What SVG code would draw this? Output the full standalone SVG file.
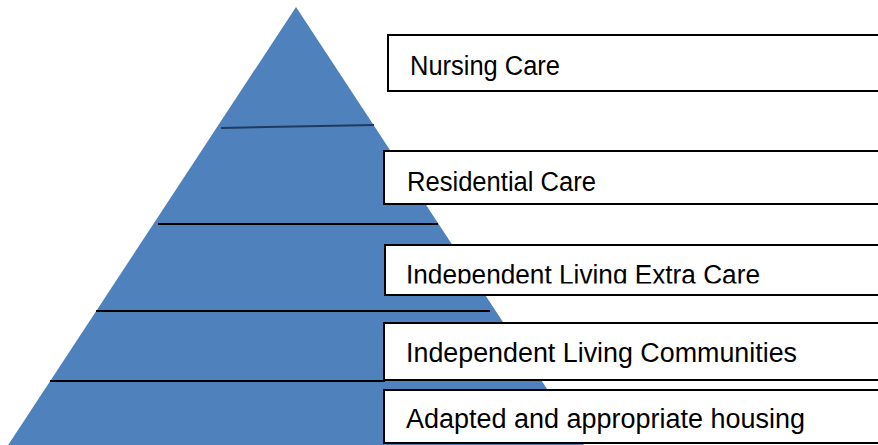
<svg xmlns="http://www.w3.org/2000/svg" width="878" height="445" viewBox="0 0 878 445">
  <style>
    .box { fill: #ffffff; stroke: #000000; stroke-width: 2; }
    .lbl { font-family: "Liberation Sans", Arial, sans-serif; font-size: 27px; fill: #000000; }
    .tier { stroke: #000000; stroke-width: 2; }
  </style>
  <defs>
    <clipPath id="clipExtra">
      <rect x="384" y="245" width="500" height="38.5"/>
    </clipPath>
  </defs>

  <!-- pyramid -->
  <g id="pyramid">
    <polygon points="296,7 595,462 -3,462" fill="#4F81BD"/>
  </g>

  <!-- tier dividers -->
  <g id="connectors">
    <line x1="221" y1="128" x2="374" y2="125" stroke="#1F3B5F" stroke-width="2"/>
    <line class="tier" x1="158" y1="224" x2="438" y2="224"/>
    <line class="tier" x1="96" y1="311" x2="490" y2="311"/>
    <line class="tier" x1="50" y1="381" x2="385" y2="381"/>
  </g>

  <g id="nursing-care">
    <rect class="box" x="388" y="35" width="500" height="56"/>
    <text class="lbl" x="410" y="75" textLength="150" lengthAdjust="spacingAndGlyphs">Nursing Care</text>
  </g>

  <g id="residential-care">
    <rect class="box" x="384" y="151" width="505" height="53"/>
    <text class="lbl" x="407" y="191" textLength="189" lengthAdjust="spacingAndGlyphs">Residential Care</text>
  </g>

  <g id="extra-care">
    <rect class="box" x="385" y="245" width="505" height="50"/>
    <text class="lbl" x="406" y="284" textLength="354" lengthAdjust="spacingAndGlyphs" clip-path="url(#clipExtra)">Independent Living Extra Care</text>
  </g>

  <g id="communities">
    <rect class="box" x="384" y="323" width="505" height="57"/>
    <text class="lbl" x="406" y="362" textLength="391" lengthAdjust="spacingAndGlyphs">Independent Living Communities</text>
  </g>

  <g id="adapted-housing">
    <rect class="box" x="384" y="390" width="505" height="53"/>
    <text class="lbl" x="406" y="428" textLength="399" lengthAdjust="spacingAndGlyphs">Adapted and appropriate housing</text>
  </g>
</svg>
